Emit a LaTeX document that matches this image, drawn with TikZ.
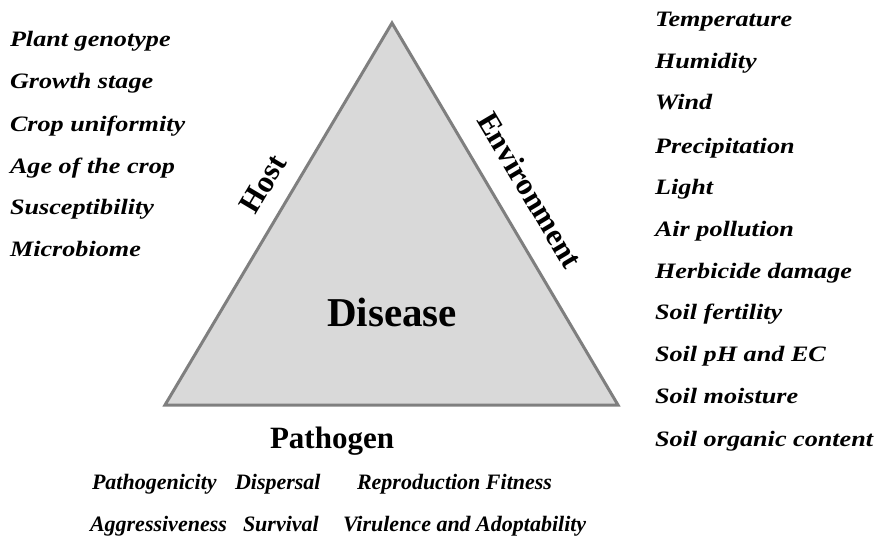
\documentclass[tikz,border=0pt]{standalone}
\usepackage{fontspec}
\setmainfont{Liberation Serif}
\newfontfamily\widefont[FakeStretch=1.19]{Liberation Serif}
\definecolor{trifill}{HTML}{D9D9D9}
\definecolor{triedge}{HTML}{7F7F7F}
\begin{document}
\begin{tikzpicture}[x=1pt, y=-1pt,
        every node/.style={inner sep=0pt, outer sep=0pt},
        factor/.style={anchor=base west, font=\widefont\fontsize{22}{22}\selectfont\bfseries\itshape},
        trait/.style={anchor=base west, font=\fontsize{22}{22}\selectfont\bfseries\itshape},
        corner/.style={font=\fontsize{31}{31}\selectfont\bfseries},
        center/.style={font=\fontsize{41}{41}\selectfont\bfseries}]
        \useasboundingbox (0, 0) rectangle (876, 542);
        \coordinate (top) at (392, 23);
        \coordinate (bl) at (165, 405);
        \coordinate (br) at (618, 405);
        \draw[fill=trifill, draw=triedge, line width=3pt, line join=miter] (top) -- (bl) -- (br) -- cycle;
        \node[center] (disease) at (392, 312) {Disease};
        \node[corner, rotate=59.3] (host) at (263, 184) {Host};
        \node[corner, rotate=-59.3] (env) at (530, 190) {Environment};
        \node[corner, anchor=base] (pathogen) at (332, 448) {Pathogen};
        % host factors
        \node[factor] (h1) at (10, 46) {Plant genotype};
        \node[factor] (h2) at (10, 88) {Growth stage};
        \node[factor] (h3) at (10, 131) {Crop uniformity};
        \node[factor] (h4) at (10, 173) {Age of the crop};
        \node[factor] (h5) at (10, 214) {Susceptibility};
        \node[factor] (h6) at (10, 256) {Microbiome};
        % environment factors
        \node[factor] (e1) at (655, 26) {Temperature};
        \node[factor] (e2) at (655, 68) {Humidity};
        \node[factor] (e3) at (655, 109) {Wind};
        \node[factor] (e4) at (655, 153) {Precipitation};
        \node[factor] (e5) at (655, 194) {Light};
        \node[factor] (e6) at (655, 236) {Air pollution};
        \node[factor] (e7) at (655, 278) {Herbicide damage};
        \node[factor] (e8) at (655, 319) {Soil fertility};
        \node[factor] (e9) at (655, 361) {Soil pH and EC};
        \node[factor] (e10) at (655, 403) {Soil moisture};
        \node[factor] (e11) at (655, 446) {Soil organic content};
        % pathogen factors
        \node[trait] (p1) at (92, 489) {Pathogenicity};
        \node[trait] (p2) at (235, 489) {Dispersal};
        \node[trait] (p3) at (357, 489) {Reproduction Fitness};
        \node[trait] (p4) at (90, 531) {Aggressiveness};
        \node[trait] (p5) at (243, 531) {Survival};
        \node[trait] (p6) at (343, 531) {Virulence and Adoptability};
    \end{tikzpicture}
\end{document}
